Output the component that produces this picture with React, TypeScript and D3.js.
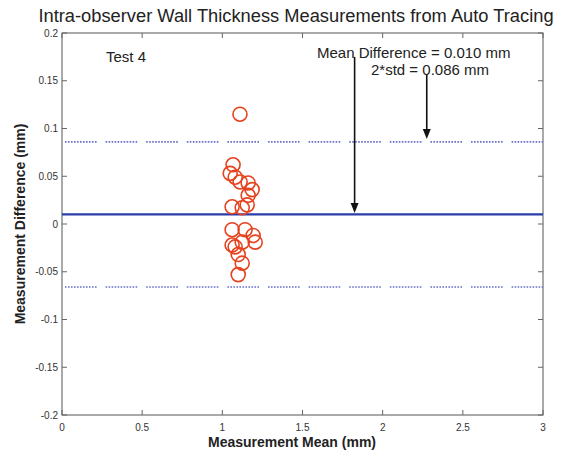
import { useEffect, useRef } from "react";
import * as d3 from "d3";

// measurement mean (mm) and difference (mm) for each pair
const meanValues = [1.11, 1.067, 1.049, 1.08, 1.111, 1.161, 1.186, 1.161, 1.061, 1.124, 1.155,
    1.061, 1.142, 1.192, 1.205, 1.124, 1.061, 1.08, 1.099, 1.124, 1.099];
const diffValues = [0.115, 0.062, 0.053, 0.049, 0.044, 0.043, 0.036, 0.030, 0.018, 0.017, 0.020,
    -0.006, -0.006, -0.012, -0.019, -0.019, -0.022, -0.024, -0.032, -0.041, -0.053];

const meanDifference = 0.010;
const upperLimit = 0.086;
const lowerLimit = -0.066;

const xTicks = [0, 0.5, 1, 1.5, 2, 2.5, 3];
const yTicks = [0.2, 0.15, 0.1, 0.05, 0, -0.05, -0.1, -0.15, -0.2];
const xTickLabels = ["0", "0.5", "1", "1.5", "2", "2.5", "3"];
const yTickLabels = ["0.2", "0.15", "0.1", "0.05", "0", "-0.05", "-0.1", "-0.15", "-0.2"];

// arrows: [x, yStart, yEnd] in data units
const arrows = [
    [1.825, 0.175, 0.0115],
    [2.275, 0.156, 0.089],
];

export default function App() {
    const ref = useRef<SVGSVGElement>(null);

    useEffect(() => {
        const width = 580;
        const height = 455;
        const left = 62, right = 543, top = 33, bottom = 415;

        const svg = d3.select(ref.current)
            .attr("width", width)
            .attr("height", height);
        svg.selectAll("*").remove();

        const font = "'Liberation Sans', Arial, sans-serif";

        const x = d3.scaleLinear().domain([0, 3]).range([left, right]);
        const y = d3.scaleLinear().domain([-0.2, 0.2]).range([bottom, top]);

        svg.append("rect").attr("width", width).attr("height", height).attr("fill", "white");

        // title
        svg.append("text")
            .attr("x", 296).attr("y", 22)
            .attr("text-anchor", "middle")
            .attr("font-family", font).attr("font-size", 18.3)
            .attr("fill", "#222")
            .text("Intra-observer Wall Thickness Measurements from Auto Tracing");

        // box
        svg.append("rect")
            .attr("x", left).attr("y", top)
            .attr("width", right - left).attr("height", bottom - top)
            .attr("fill", "none").attr("stroke", "#555").attr("stroke-width", 1);

        // ticks on all four sides
        const tk = 5;
        xTicks.forEach((t, i) => {
            svg.append("line").attr("x1", x(t)).attr("x2", x(t)).attr("y1", bottom).attr("y2", bottom - tk).attr("stroke", "#666");
            svg.append("line").attr("x1", x(t)).attr("x2", x(t)).attr("y1", top).attr("y2", top + tk).attr("stroke", "#666");
            svg.append("text")
                .attr("x", x(t)).attr("y", bottom + 16)
                .attr("text-anchor", "middle")
                .attr("font-family", font).attr("font-size", 10)
                .attr("fill", "#333")
                .text(xTickLabels[i]);
        });
        yTicks.forEach((t, i) => {
            svg.append("line").attr("x1", left).attr("x2", left + tk).attr("y1", y(t)).attr("y2", y(t)).attr("stroke", "#666");
            svg.append("line").attr("x1", right).attr("x2", right - tk).attr("y1", y(t)).attr("y2", y(t)).attr("stroke", "#666");
            svg.append("text")
                .attr("x", left - 4).attr("y", y(t) + 3.5)
                .attr("text-anchor", "end")
                .attr("font-family", font).attr("font-size", 10)
                .attr("fill", "#333")
                .text(yTickLabels[i]);
        });

        // axis labels
        svg.append("text")
            .attr("x", 292).attr("y", 447)
            .attr("text-anchor", "middle")
            .attr("font-family", font).attr("font-size", 14).attr("font-weight", "bold")
            .attr("fill", "#222")
            .text("Measurement Mean (mm)");
        svg.append("text")
            .attr("transform", `translate(25,${y(0)}) rotate(-90)`)
            .attr("text-anchor", "middle")
            .attr("font-family", font).attr("font-size", 14).attr("font-weight", "bold")
            .attr("fill", "#222")
            .text("Measurement Difference (mm)");

        // limits (dotted in groups)
        const group: number[] = [];
        for (let k = 0; k < 11; k++) group.push(1.6, 1.4);
        group[group.length - 1] = 9;
        [upperLimit, lowerLimit].forEach(v => {
            svg.append("line")
                .attr("x1", left + 3).attr("x2", right)
                .attr("y1", y(v)).attr("y2", y(v))
                .attr("stroke", "#6670c8").attr("stroke-width", 1.6)
                .attr("stroke-dasharray", group.join(","));
        });

        // mean difference line
        svg.append("line")
            .attr("x1", left).attr("x2", right)
            .attr("y1", y(meanDifference)).attr("y2", y(meanDifference))
            .attr("stroke", "#2a3ca8").attr("stroke-width", 2.2);

        // points
        svg.append("g")
            .selectAll("circle")
            .data(meanValues.map((m, i) => [m, diffValues[i]]))
            .join("circle")
            .attr("cx", d => x(d[0]))
            .attr("cy", d => y(d[1]))
            .attr("r", 7)
            .attr("fill", "none")
            .attr("stroke", "#e5421e")
            .attr("stroke-width", 1.6);

        // annotations
        svg.append("text")
            .attr("x", 106).attr("y", 62)
            .attr("font-family", font).attr("font-size", 15)
            .attr("fill", "#222")
            .text("Test 4");
        svg.append("text")
            .attr("x", 317).attr("y", 58)
            .attr("font-family", font).attr("font-size", 15)
            .attr("fill", "#222")
            .text("Mean Difference = 0.010 mm");
        svg.append("text")
            .attr("x", 371).attr("y", 75)
            .attr("font-family", font).attr("font-size", 15)
            .attr("fill", "#222")
            .text("2*std = 0.086 mm");

        arrows.forEach(([ax, y0, y1]) => {
            const px = x(ax);
            const pEnd = y(y1);
            svg.append("line")
                .attr("x1", px).attr("x2", px)
                .attr("y1", y(y0)).attr("y2", pEnd - 8)
                .attr("stroke", "#111").attr("stroke-width", 1.6);
            svg.append("path")
                .attr("d", `M${px - 4},${pEnd - 10} L${px + 4},${pEnd - 10} L${px},${pEnd} Z`)
                .attr("fill", "#111");
        });
    }, []);

    return <svg ref={ref} style={{ position: "absolute", left: 0, top: 0 }}></svg>;
}
